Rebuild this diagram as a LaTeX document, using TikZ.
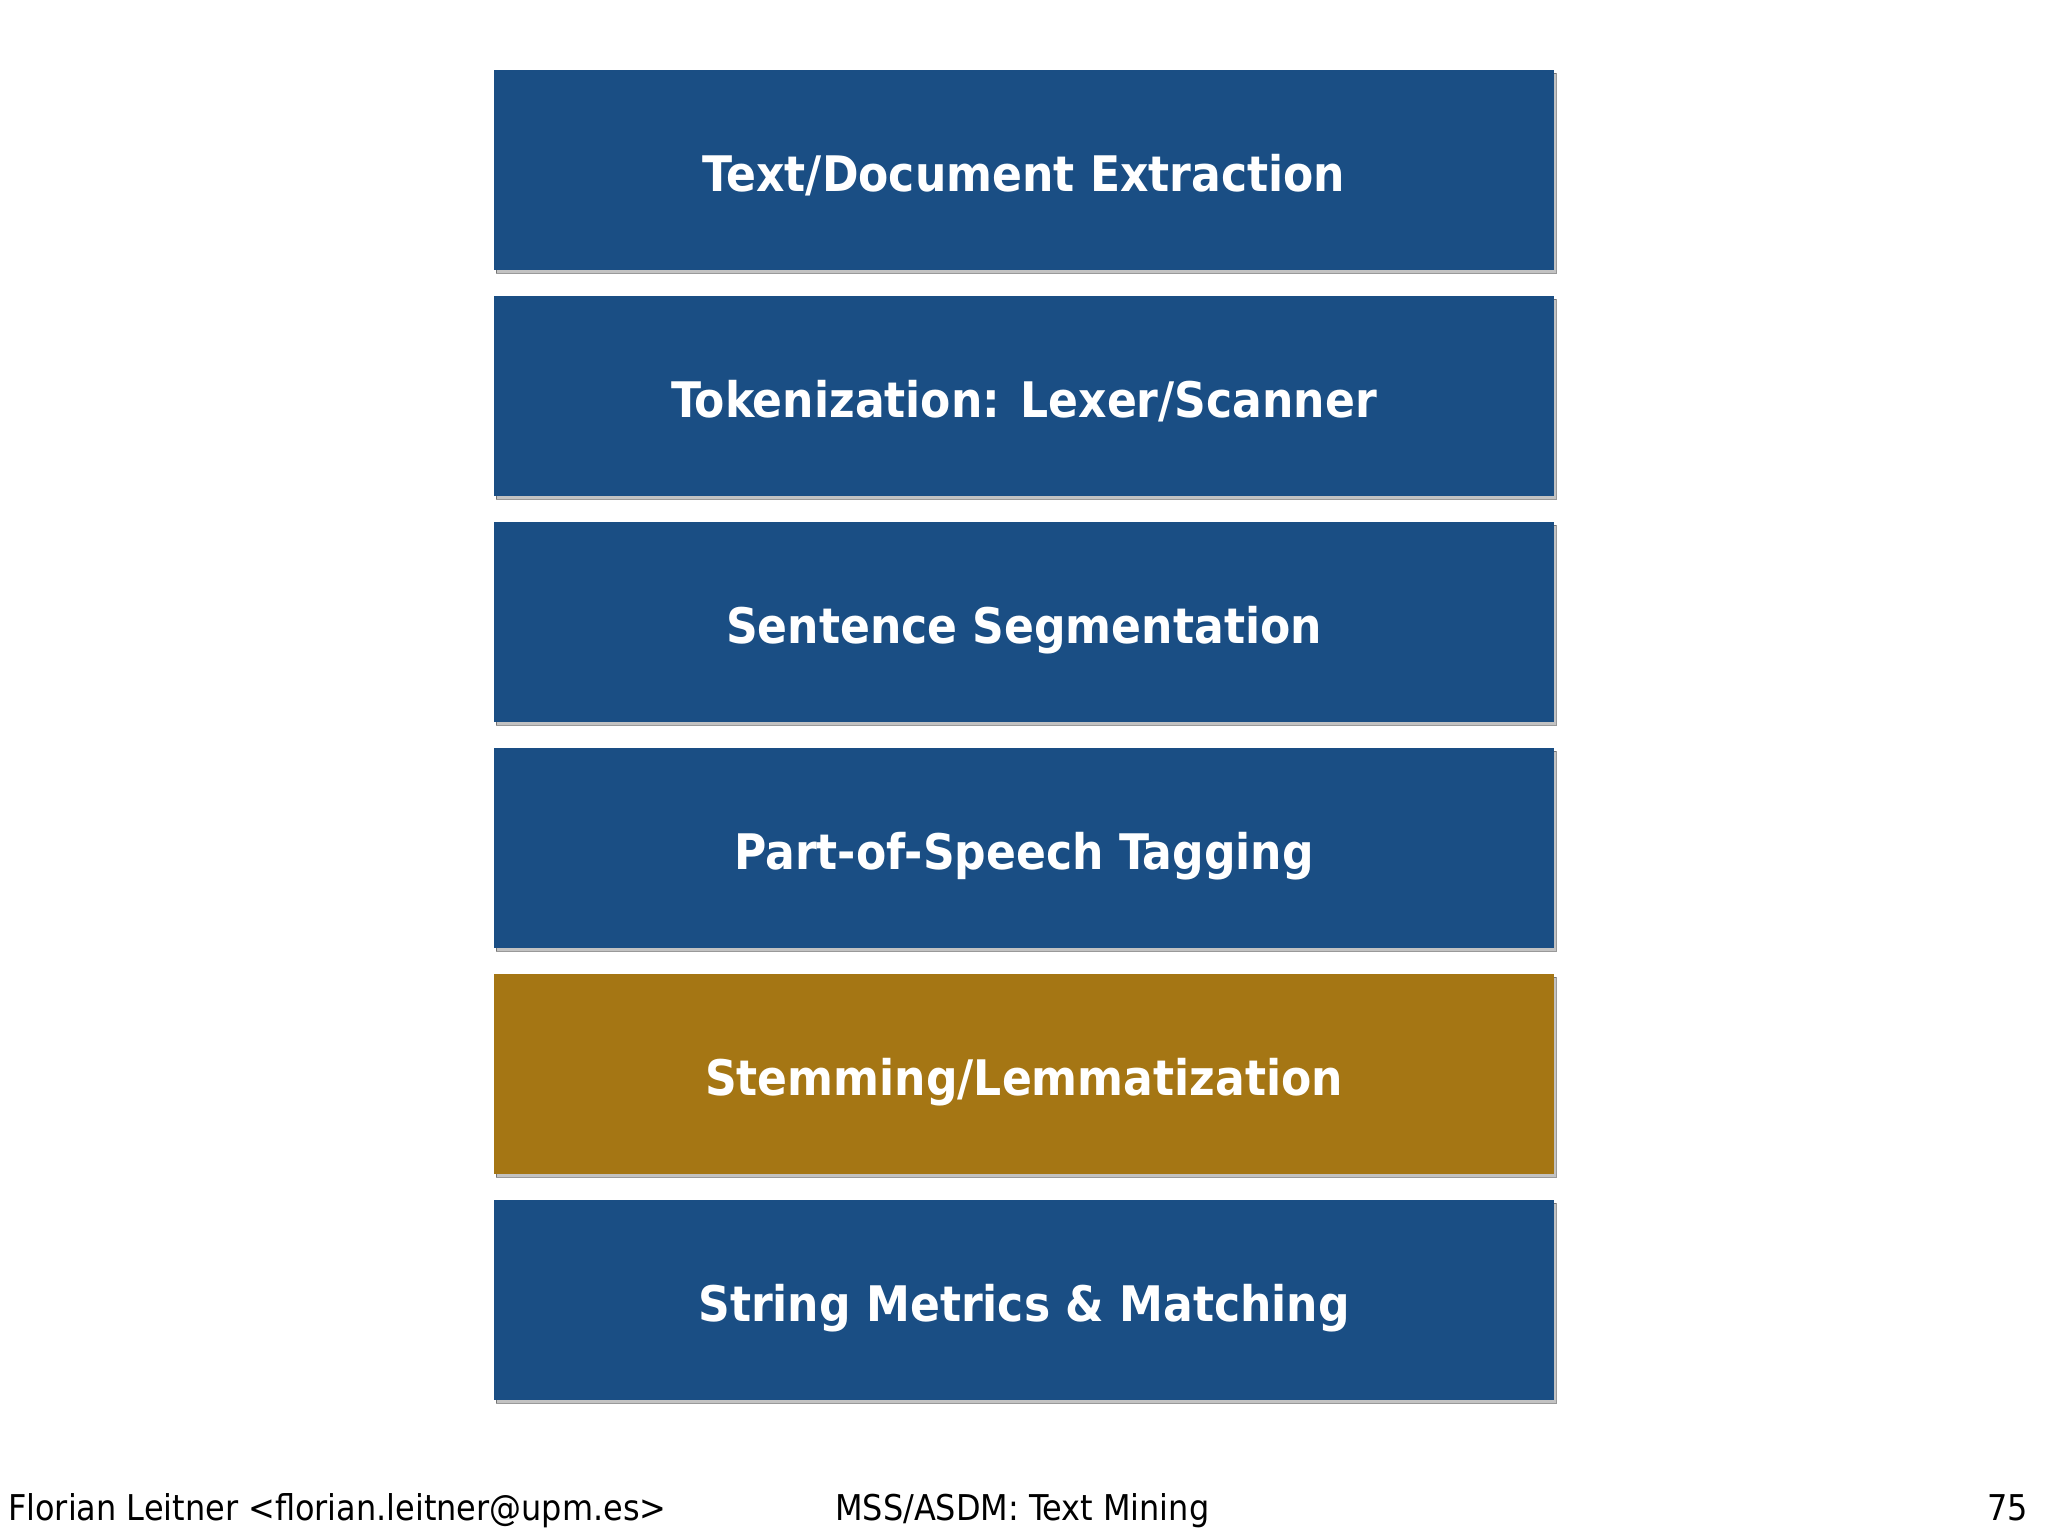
\documentclass[tikz,border=0pt]{standalone}
\usepackage{fontspec}
\setmainfont{DejaVu Sans}
\newfontfamily\footfont{DejaVu Sans Condensed}
\newfontfamily\boxfont{DejaVu Sans Condensed Bold}
\usetikzlibrary{shadows}
\definecolor{boxblue}{HTML}{1A4E84}
\definecolor{boxgold}{HTML}{A57614}
\tikzset{
  stagebox/.style={rectangle, fill=boxblue, minimum width=1060pt, minimum height=200pt,
    inner sep=0pt, text=white, font=\boxfont\fontsize{49}{58}\selectfont,
    text height=42pt, text depth=0pt,
    copy shadow={shadow xshift=2pt, shadow yshift=-3pt, fill=black!60, opacity=0.4}},
  goldbox/.style={stagebox, fill=boxgold},
  foottext/.style={font=\footfont\fontsize{35.5}{42}\selectfont, text=black, inner sep=0pt}
}
\begin{document}
\begin{tikzpicture}[x=1pt,y=-1pt]
\useasboundingbox (0,0) rectangle (2048,1536);
\node[stagebox] (s1) at (1024,170) {Text/Document Extraction};
\node[stagebox] (s2) at (1024,396) {Tokenization: Lexer/Scanner};
\node[stagebox] (s3) at (1024,622) {Sentence Segmentation};
\node[stagebox] (s4) at (1024,848) {Part-of-Speech Tagging};
\node[goldbox]  (s5) at (1024,1074) {Stemming/Lemmatization};
\node[stagebox] (s6) at (1024,1300) {String Metrics \& Matching};
\node[foottext, anchor=base west] (f1) at (8,1520) {Florian Leitner <florian.leitner@upm.es>};
\node[foottext, anchor=base west] (f2) at (835,1520) {MSS/ASDM: Text Mining};
\node[foottext, anchor=base east] (f3) at (2028,1520) {75};
\end{tikzpicture}
\end{document}
